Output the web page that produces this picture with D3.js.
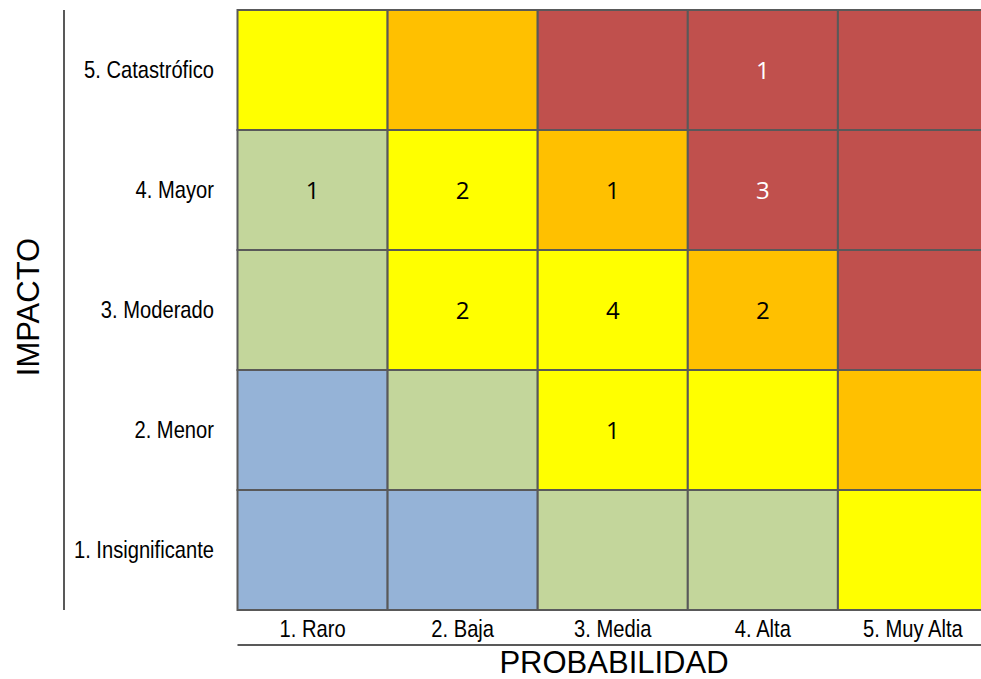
<!DOCTYPE html>
<html>
<head>
<meta charset="utf-8">
<script src="https://cdn.jsdelivr.net/npm/d3@7"></script>
<style>
  html, body { margin: 0; padding: 0; background: #fff; overflow: hidden; }
  svg { display: block; }
</style>
</head>
<body>
<svg id="chart" width="981" height="679"></svg>
<script>
// Probability (columns) and impact (rows) categories
const probabilidad = ["1. Raro", "2. Baja", "3. Media", "4. Alta", "5. Muy Alta"];
const impacto = ["5. Catastrófico", "4. Mayor", "3. Moderado", "2. Menor", "1. Insignificante"];

// Risk level of each cell, rows from 5. Catastrófico down to 1. Insignificante
const nivel = [
  ["medio", "alto", "extremo", "extremo", "extremo"],
  ["bajo", "medio", "alto", "extremo", "extremo"],
  ["bajo", "medio", "medio", "alto", "extremo"],
  ["minimo", "bajo", "medio", "medio", "alto"],
  ["minimo", "minimo", "bajo", "bajo", "medio"]
];

// Number of risks placed in each cell (0 = empty)
const conteo = [
  [0, 0, 0, 1, 0],
  [1, 2, 1, 3, 0],
  [0, 2, 4, 2, 0],
  [0, 0, 1, 0, 0],
  [0, 0, 0, 0, 0]
];

const colores = {
  minimo: "#95b3d7",
  bajo: "#c3d69b",
  medio: "#ffff00",
  alto: "#ffc000",
  extremo: "#c0504d"
};

// Condensed look for the category labels
const narrow = 0.84;
const labelFont = "'Liberation Sans', Arial, sans-serif";

const svg = d3.select("#chart");

const x = d3.scaleBand().domain(probabilidad).range([237.5, 988]);
const y = d3.scaleBand().domain(impacto).range([10, 610]);

const cells = [];
impacto.forEach((imp, r) => {
  probabilidad.forEach((p, c) => {
    cells.push({ imp, p, nivel: nivel[r][c], n: conteo[r][c] });
  });
});

// Matrix cells
svg.append("g")
  .selectAll("rect")
  .data(cells)
  .join("rect")
  .attr("x", d => x(d.p))
  .attr("y", d => y(d.imp))
  .attr("width", x.bandwidth())
  .attr("height", y.bandwidth())
  .attr("fill", d => colores[d.nivel])
  .attr("stroke", "#595959")
  .attr("stroke-width", 2);

// Risk counts
svg.append("g")
  .selectAll("text")
  .data(cells.filter(d => d.n > 0))
  .join("text")
  .attr("x", d => x(d.p) + x.bandwidth() / 2)
  .attr("y", d => y(d.imp) + y.bandwidth() / 2)
  .attr("dy", "0.36em")
  .attr("text-anchor", "middle")
  .attr("font-family", "'Open Sans', 'Noto Sans', sans-serif")
  .attr("font-size", 24)
  .attr("fill", d => d.nivel === "extremo" ? "#ffffff" : "#000000")
  .text(d => d.n);

// Impact axis
const yAxis = svg.append("g")
  .attr("transform", "translate(64,0)")
  .call(d3.axisLeft(y).tickSize(0).tickPadding(0));
yAxis.select(".domain").remove();
yAxis.selectAll("text")
  .attr("x", 150 / narrow)
  .attr("transform", `scale(${narrow},1)`)
  .attr("text-anchor", "end")
  .attr("font-family", labelFont)
  .attr("font-size", 24)
  .attr("fill", "#000");
svg.append("line")
  .attr("x1", 64).attr("x2", 64)
  .attr("y1", 10).attr("y2", 610)
  .attr("stroke", "#595959").attr("stroke-width", 2);

// Probability axis
const xAxis = svg.append("g")
  .attr("transform", "translate(0,612)")
  .call(d3.axisBottom(x).tickSize(0).tickPadding(0));
xAxis.select(".domain").remove();
xAxis.selectAll("text")
  .attr("y", 8)
  .attr("transform", `scale(${narrow},1)`)
  .attr("font-family", labelFont)
  .attr("font-size", 24)
  .attr("fill", "#000");
svg.append("line")
  .attr("x1", 237.5).attr("x2", 988)
  .attr("y1", 645).attr("y2", 645)
  .attr("stroke", "#595959").attr("stroke-width", 2);

// Axis titles
svg.append("text")
  .attr("transform", "translate(39,307) rotate(-90)")
  .attr("text-anchor", "middle")
  .attr("font-family", labelFont)
  .attr("font-size", 31)
  .attr("fill", "#000")
  .text("IMPACTO");

svg.append("text")
  .attr("x", 614)
  .attr("y", 673)
  .attr("text-anchor", "middle")
  .attr("font-family", labelFont)
  .attr("font-size", 31)
  .attr("fill", "#000")
  .text("PROBABILIDAD");
</script>
</body>
</html>
